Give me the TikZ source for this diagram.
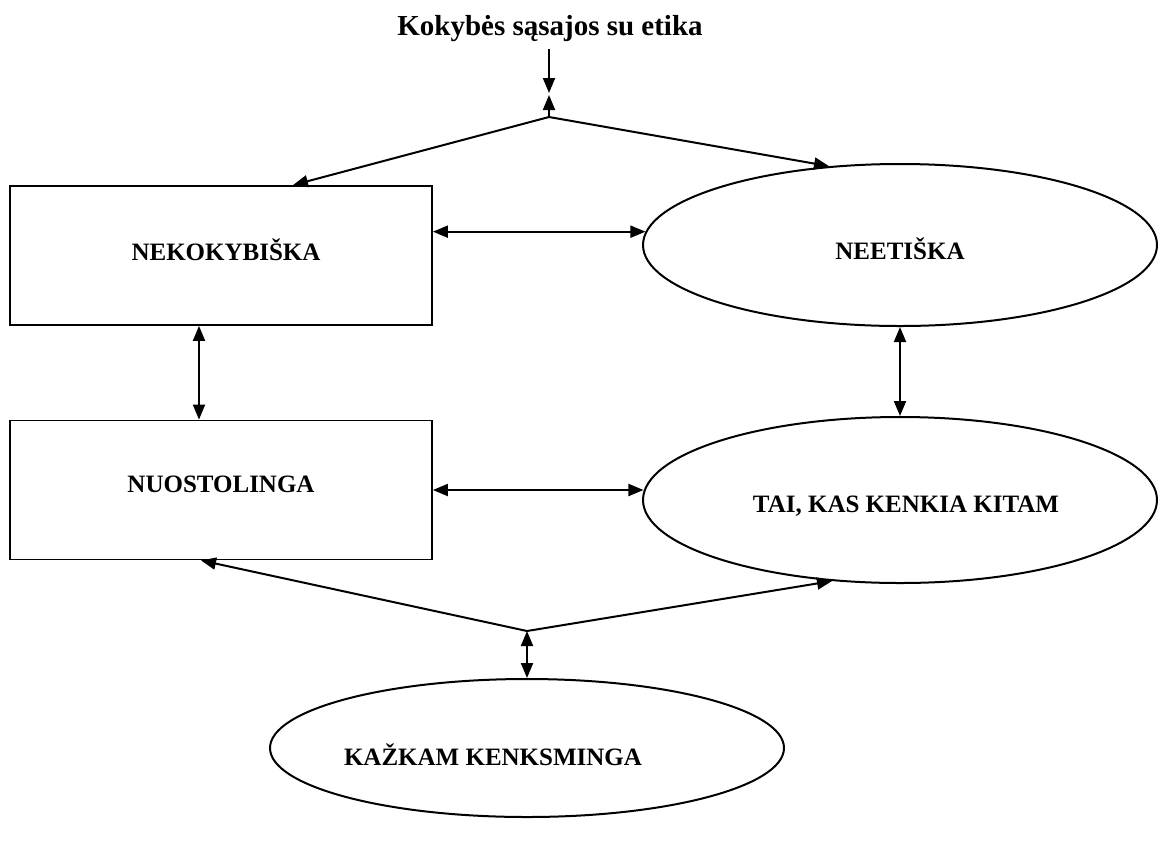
\documentclass[tikz,border=0pt]{standalone}
\usepackage{fontspec}
\setmainfont{Liberation Serif}
\usetikzlibrary{shapes.geometric,arrows.meta}
\begin{document}
\begin{tikzpicture}[x=1pt,y=-1pt,
  tip/.style={-{Triangle[length=15pt,width=12pt]}},
  bitip/.style={{Triangle[length=15pt,width=12pt]}-{Triangle[length=15pt,width=12pt]}},
  link/.style={line width=2pt},
  box/.style={draw,line width=1.8pt,rectangle,minimum width=422pt,minimum height=139pt,
    inner sep=0pt},
  oval/.style={draw,line width=2pt,ellipse,inner sep=0pt},
  lbl/.style={font=\fontsize{25}{29}\selectfont\bfseries,inner sep=0pt}]
  \useasboundingbox (0,0) rectangle (1158,841);

  % title
  \node[font=\fontsize{29}{33}\selectfont\bfseries] (title) at (550,29) {Kokybės sąsajos su etika};

  % the two boxes on the left
  \node[box] (n1) at (221,255.5) {};
  \node[box] (n2) at (221,490) {};

  % the three ellipses
  \node[oval,minimum width=514pt,minimum height=162pt] (e1) at (900,245) {};
  \node[oval,minimum width=514pt,minimum height=166pt] (e2) at (900,500) {};
  \node[oval,minimum width=514pt,minimum height=138pt] (e3) at (527,748) {};

  % their texts
  \node[lbl] (t1) at (226,250) {NEKOKYBIŠKA};
  \node[lbl] (t2) at (221,484) {NUOSTOLINGA};
  \node[lbl] (t3) at (900,249) {NEETIŠKA};
  \node[lbl] (t4) at (906,506) {TAI, KAS KENKIA KITAM};
  \node[lbl] (t5) at (493,755) {KAŽKAM KENKSMINGA};

  % branching points
  \coordinate (j1) at (549,117);
  \coordinate (j2) at (527,631);

  % top branch
  \draw[link,tip] (title.south -| j1) ++(0,3) -- ([yshift=24pt]j1);
  \draw[link,tip] (j1) -- ([yshift=22pt]j1);
  \draw[link,tip] (j1) -- ([xshift=72pt]n1.north);
  \draw[link,tip] (j1) -- (e1.132);

  % links between neighbours
  \draw[link,bitip] (e1.177.5 -| n1.east) -- (e1.177.5);
  \draw[link,bitip] ([xshift=-22pt]n1.south) -- ([xshift=-22pt]n2.north);
  \draw[link,bitip] (e1.south) -- (e2.north);
  \draw[link,bitip] (n2.east) -- (n2.east -| e2.178);

  % bottom branch
  \draw[link,tip] (j2) -- ([xshift=-20pt]n2.south);
  \draw[link,tip] (j2) -- (e2.230);
  \draw[link,bitip] (j2) -- (e3.north);
\end{tikzpicture}
\end{document}
